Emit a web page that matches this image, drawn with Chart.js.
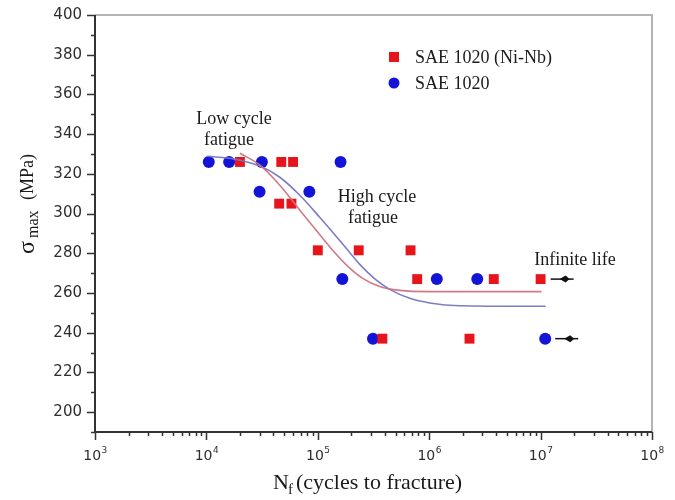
<!DOCTYPE html>
<html>
<head>
<meta charset="utf-8">
<script src="https://cdn.jsdelivr.net/npm/chart.js@4.4.1/dist/chart.umd.min.js"></script>
<style>
  html, body { margin: 0; padding: 0; background: #fff; }
  #wrap { width: 675px; height: 500px; }
</style>
</head>
<body>
<div id="wrap"><canvas id="fatigueChart" width="675" height="500"></canvas></div>
<script>
// SAE 1020 (Ni-Nb) - red squares
const nbCycles = [2.0e4, 4.7e4, 6.0e4, 4.5e4, 5.8e4, 1.0e5, 2.33e5, 6.8e5, 7.8e5, 3.8e6, 1.0e7, 3.8e5, 2.3e6];
const nbStress = [326, 326, 326, 305, 305, 281.5, 281.5, 281.5, 267, 267, 267, 237, 237];

// SAE 1020 - blue circles
const saeCycles = [1.05e4, 1.6e4, 3.15e4, 1.6e5, 3.0e4, 8.4e4, 1.66e5, 1.17e6, 2.7e6, 3.13e5, 1.1e7];
const saeStress = [326, 326, 326, 326, 311, 311, 267, 267, 267, 237, 237];

// fitted curves
const nbFitCycles = [2.0e4, 3.02e4, 4.56e4, 6.9e4, 1.0e5, 1.36e5, 1.86e5, 2.53e5, 3.6e5, 5.44e5, 1.01e6, 1.02e7];
const nbFitStress = [330.4, 324.4, 314.3, 301.7, 290.6, 281.5, 273.4, 267.4, 263.3, 261.3, 260.7, 260.7];
const saeFitCycles = [1.01e4, 1.8e4, 3.02e4, 4.56e4, 6.9e4, 1.04e5, 1.68e5, 2.38e5, 3.25e5, 4.42e5, 6.69e5, 1.01e6, 1.88e6, 1.11e7];
const saeFitStress = [328.9, 327.4, 323.9, 318.3, 309.2, 298.1, 284.5, 274.4, 267.1, 261.8, 257.3, 255.0, 253.6, 253.3];

// run-outs (arrows after these points)
const runoutCycles = [1.0e7, 1.1e7];
const runoutStress = [267, 237];

const yTicks = [200, 220, 240, 260, 280, 300, 320, 340, 360, 380, 400];
const xDecades = [3, 4, 5, 6, 7, 8];

const labels = {
    nb: 'SAE 1020 (Ni-Nb)',
    sae: 'SAE 1020'
};

const redColor = '#e8141c';
const blueColor = '#1414d6';

function toPoints(xs, ys) {
    return xs.map((x, i) => ({ x: x, y: ys[i] }));
}

const serif = '"Liberation Serif", "Times New Roman", serif';
const sans = '"DejaVu Sans", Arial, sans-serif';

const decorPlugin = {
    id: 'decor',
    beforeDatasetsDraw(chart) {
        const ctx = chart.ctx;
        const a = chart.chartArea;
        const xs = chart.scales.x;
        const ys = chart.scales.y;
        ctx.save();
        // light frame top / right
        ctx.strokeStyle = '#b4b4b4';
        ctx.lineWidth = 2;
        ctx.beginPath();
        ctx.moveTo(a.left, a.top);
        ctx.lineTo(a.right, a.top);
        ctx.lineTo(a.right, a.bottom);
        ctx.stroke();

        // left + bottom axis
        ctx.strokeStyle = '#333';
        ctx.lineWidth = 2;
        ctx.beginPath();
        ctx.moveTo(a.left, a.top);
        ctx.lineTo(a.left, a.bottom);
        ctx.lineTo(a.right, a.bottom);
        ctx.stroke();

        ctx.lineWidth = 1.5;
        ctx.beginPath();
        for (let v = 190; v <= 400; v += 10) {
            const py = Math.round(ys.getPixelForValue(v)) + 0.5;
            const len = (v % 20 === 0) ? 8 : 4;
            ctx.moveTo(a.left - len, py);
            ctx.lineTo(a.left, py);
        }
        xDecades.forEach((d) => {
            const px = Math.round(xs.getPixelForValue(Math.pow(10, d))) + 0.5;
            ctx.moveTo(px, a.bottom);
            ctx.lineTo(px, a.bottom + 8);
            if (d < 8) {
                for (let m = 2; m <= 9; m++) {
                    const mx = Math.round(xs.getPixelForValue(m * Math.pow(10, d))) + 0.5;
                    ctx.moveTo(mx, a.bottom);
                    ctx.lineTo(mx, a.bottom + 4);
                }
            }
        });
        ctx.stroke();

        // y tick labels
        ctx.fillStyle = '#2e2e2e';
        ctx.font = '15px ' + sans;
        ctx.textAlign = 'right';
        ctx.textBaseline = 'middle';
        yTicks.forEach((v) => {
            ctx.fillText(String(v), a.left - 13, ys.getPixelForValue(v));
        });

        // x tick labels 10^n
        xDecades.forEach((d) => {
            const px = xs.getPixelForValue(Math.pow(10, d));
            ctx.font = '14px ' + sans;
            const wBase = ctx.measureText('10').width;
            ctx.font = '9px ' + sans;
            const wExp = ctx.measureText(String(d)).width;
            const start = px - (wBase + wExp) / 2;
            ctx.textAlign = 'left';
            ctx.textBaseline = 'alphabetic';
            ctx.font = '14px ' + sans;
            ctx.fillText('10', start, 460);
            ctx.font = '9px ' + sans;
            ctx.fillText(String(d), start + wBase + 0.5, 453);
        });
        ctx.restore();
    },
    afterDraw(chart) {
        const ctx = chart.ctx;
        const xs = chart.scales.x;
        const ys = chart.scales.y;
        ctx.save();

        // run-out arrows
        ctx.strokeStyle = '#111';
        ctx.fillStyle = '#111';
        ctx.lineWidth = 1.5;
        runoutCycles.forEach((c, i) => {
            const px = xs.getPixelForValue(c);
            const py = ys.getPixelForValue(runoutStress[i]);
            const x0 = px + 10, x1 = px + 33;
            ctx.beginPath();
            ctx.moveTo(x0, py);
            ctx.lineTo(x1, py);
            ctx.stroke();
            ctx.beginPath();
            ctx.moveTo(x1 - 8, py - 3.5);
            ctx.lineTo(x1 - 4, py);
            ctx.lineTo(x1 - 8, py + 3.5);
            ctx.lineTo(x1 - 14, py);
            ctx.closePath();
            ctx.fill();
        });

        // legend
        ctx.fillStyle = redColor;
        ctx.fillRect(389, 52, 10, 10);
        ctx.fillStyle = blueColor;
        ctx.beginPath();
        ctx.arc(394, 83, 5.5, 0, Math.PI * 2);
        ctx.fill();
        ctx.fillStyle = '#1a1a1a';
        ctx.font = '18px ' + serif;
        ctx.textAlign = 'left';
        ctx.textBaseline = 'middle';
        ctx.fillText(labels.nb, 415, 58);
        ctx.fillText(labels.sae, 415, 84);

        // annotations
        ctx.textAlign = 'center';
        ctx.font = '18px ' + serif;
        ctx.fillText('Low cycle', 234, 119);
        ctx.fillText('fatigue', 229, 140);
        ctx.fillText('High cycle', 377, 197);
        ctx.fillText('fatigue', 373, 218);
        ctx.fillText('Infinite life', 575, 260);

        // x title
        ctx.textAlign = 'left';
        ctx.textBaseline = 'alphabetic';
        ctx.font = '22px ' + serif;
        ctx.fillText('N', 273, 489);
        ctx.font = '15px ' + serif;
        ctx.fillText('f', 288, 494);
        ctx.font = '22px ' + serif;
        ctx.fillText('(cycles to fracture)', 296, 489);

        // y title (rotated)
        ctx.rotate(-Math.PI / 2);
        ctx.font = '24px ' + serif;
        ctx.fillText('σ', -254, 34);
        ctx.font = '16px ' + serif;
        ctx.fillText('max', -238, 38);
        ctx.font = '18px ' + serif;
        ctx.fillText('(MPa)', -200, 33);
        ctx.restore();
    }
};

new Chart(document.getElementById('fatigueChart'), {
    type: 'scatter',
    data: {
        datasets: [
            {
                type: 'line',
                label: 'fit Ni-Nb',
                data: toPoints(nbFitCycles, nbFitStress),
                borderColor: 'rgba(205,115,128,0.95)',
                borderWidth: 1.6,
                pointRadius: 0,
                fill: false,
                cubicInterpolationMode: 'monotone'
            },
            {
                type: 'line',
                label: 'fit SAE',
                data: toPoints(saeFitCycles, saeFitStress),
                borderColor: 'rgba(118,118,195,0.95)',
                borderWidth: 1.6,
                pointRadius: 0,
                fill: false,
                cubicInterpolationMode: 'monotone'
            },
            {
                label: labels.nb,
                data: toPoints(nbCycles, nbStress),
                pointStyle: 'rect',
                pointRadius: 7,
                backgroundColor: redColor,
                borderColor: redColor,
                borderWidth: 0
            },
            {
                label: labels.sae,
                data: toPoints(saeCycles, saeStress),
                pointStyle: 'circle',
                pointRadius: 6,
                backgroundColor: blueColor,
                borderColor: blueColor,
                borderWidth: 0
            }
        ]
    },
    options: {
        responsive: false,
        animation: false,
        devicePixelRatio: 1,
        layout: { padding: { left: 95, top: 15, right: 23, bottom: 68 } },
        plugins: {
            legend: { display: false },
            title: { display: false },
            tooltip: { enabled: false }
        },
        scales: {
            x: { type: 'logarithmic', min: 1e3, max: 1e8, display: false },
            y: { type: 'linear', min: 190, max: 400, display: false }
        }
    },
    plugins: [decorPlugin]
});
</script>
</body>
</html>
